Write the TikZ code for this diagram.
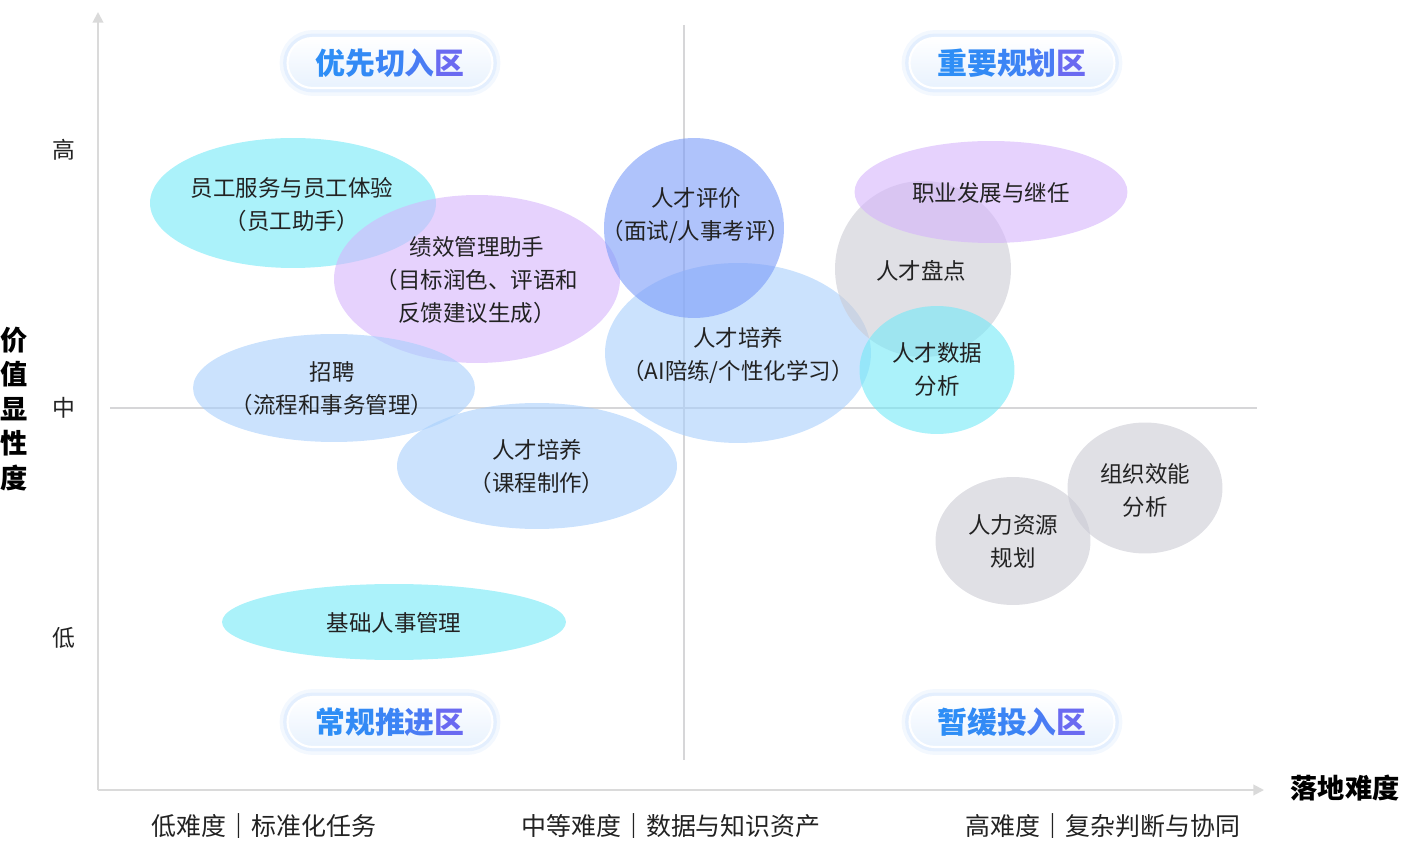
\documentclass[tikz,border=0pt]{standalone}
\usepackage{fontspec}
\setmainfont{Noto Sans CJK SC}
\usetikzlibrary{shapes.geometric,arrows.meta}

\definecolor{axisgray}{HTML}{DADADA}
\definecolor{gridgray}{HTML}{D6D6D8}
\definecolor{cyanfill}{HTML}{73E9F7}
\definecolor{bluefill}{HTML}{A8CFFC}
\definecolor{deepfill}{HTML}{7A9BF8}
\definecolor{violetfill}{HTML}{D5B4FC}
\definecolor{greyfill}{HTML}{CBCBD4}
\definecolor{inkdark}{HTML}{222222}
\definecolor{glowblue}{HTML}{D6E7FD}
\definecolor{pillbottom}{HTML}{E8F2FE}
\definecolor{zoneA}{HTML}{2E8EF6}
\definecolor{zoneB}{HTML}{328AF5}
\definecolor{zoneC}{HTML}{3B84F5}
\definecolor{zoneD}{HTML}{4A7CF4}
\definecolor{zoneE}{HTML}{6A6AF1}

\newcommand{\zonename}[5]{\textcolor{zoneA}{#1}\textcolor{zoneB}{#2}\textcolor{zoneC}{#3}\textcolor{zoneD}{#4}\textcolor{zoneE}{#5}}

\tikzset{
  blob/.style={ellipse, fill=#1, fill opacity=0.6, inner sep=0pt},
  blobtext/.style={align=center, text=inkdark, font=\fontsize{12.8}{18.8}\selectfont},
  zone/.style={rounded corners=0.5cm, minimum width=4.1cm, minimum height=1cm,
    preaction={draw=glowblue, line width=9pt, opacity=0.3},
    preaction={draw=glowblue, line width=5pt, opacity=0.5},
    top color=white, bottom color=pillbottom, draw=white, line width=1.2pt,
    font=\fontsize{17}{20}\selectfont\bfseries},
  axis/.style={draw=axisgray, line width=1.1pt, -{Triangle[length=6pt,width=6pt]}},
  divider/.style={draw=gridgray, line width=0.8pt},
  tick/.style={text=inkdark, font=\fontsize{13}{15}\selectfont},
  axisname/.style={text=black, font=\fontsize{15.5}{19.6}\selectfont\bfseries, align=center},
  difftext/.style={text=inkdark, font=\fontsize{14.2}{17}\selectfont}
}

\begin{document}
\begin{tikzpicture}[x=0.02cm, y=-0.02cm]
        \useasboundingbox (0,0) rectangle (1404,861);

        % Draw axes and quadrant lines
        \coordinate (origin) at (98,790);
        \coordinate (ytip) at (98,12);
        \coordinate (xtip) at (1264,790);
        \coordinate (vtop) at (684,25);
        \coordinate (vbot) at (684,760);
        \coordinate (hleft) at (110,408);
        \coordinate (hright) at (1257,408);
        \draw[divider] (vtop) -- (vbot);
        \draw[divider] (hleft) -- (hright);
        \draw[axis] (origin) -- (ytip);
        \draw[axis] (origin) -- (xtip);

        % Draw ellipses
        \node[blob=cyanfill, minimum width=5.72cm, minimum height=2.6cm] (service) at (293,203) {};
        \node[blob=violetfill, minimum width=5.72cm, minimum height=3.36cm] (perf) at (477,279) {};
        \node[blob=bluefill, minimum width=5.64cm, minimum height=2.16cm] (recruit) at (334,388) {};
        \node[blob=bluefill, minimum width=5.6cm, minimum height=2.52cm] (course) at (537,466) {};
        \node[blob=cyanfill, minimum width=6.88cm, minimum height=1.52cm] (basic) at (394,622) {};
        \node[blob=bluefill, minimum width=5.32cm, minimum height=3.6cm] (coach) at (738,353) {};
        \node[blob=deepfill, minimum width=3.6cm, minimum height=3.6cm] (assess) at (694,228) {};
        \node[blob=greyfill, minimum width=3.52cm, minimum height=3.52cm] (review) at (923,269) {};
        \node[blob=violetfill, minimum width=5.46cm, minimum height=2.04cm] (career) at (991,192) {};
        \node[blob=cyanfill, minimum width=3.1cm, minimum height=2.56cm] (analytics) at (937,370) {};
        \node[blob=greyfill, minimum width=3.1cm, minimum height=2.62cm] (orgeff) at (1145,488) {};
        \node[blob=greyfill, minimum width=3.1cm, minimum height=2.56cm] (hrplan) at (1013,541) {};

        % Draw ellipse texts
        \node[blobtext] (serviceT) at (292,205) {员工服务与员工体验\\（员工助手）};
        \node[blobtext] (perfT) at (477,280) {绩效管理助手\\（目标润色、评语和\\反馈建议生成）};
        \node[blobtext] (recruitT) at (332,389) {招聘\\（流程和事务管理）};
        \node[blobtext] (courseT) at (537,467) {人才培养\\（课程制作）};
        \node[blobtext] (basicT) at (394,623) {基础人事管理};
        \node[blobtext] (coachT) at (738,355) {人才培养\\（AI陪练/个性化学习）};
        \node[blobtext] (assessT) at (696,216) {人才评价\\（面试/人事考评）};
        \node[blobtext] (reviewT) at (921,271) {人才盘点};
        \node[blobtext] (careerT) at (991,193) {职业发展与继任};
        \node[blobtext] (analyticsT) at (937,369) {人才数据\\分析};
        \node[blobtext] (orgeffT) at (1145,490) {组织效能\\分析};
        \node[blobtext] (hrplanT) at (1013,541) {人力资源\\规划};

        % Draw quadrant labels
        \node[zone] (first) at (390,63) {\zonename{优}{先}{切}{入}{区}};
        \node[zone] (plan) at (1012,63) {\zonename{重}{要}{规}{划}{区}};
        \node[zone] (routine) at (390,722) {\zonename{常}{规}{推}{进}{区}};
        \node[zone] (defer) at (1012,722) {\zonename{暂}{缓}{投}{入}{区}};

        % Draw axis labels
        \node[tick] (high) at (64,150) {高};
        \node[tick] (mid) at (64,408) {中};
        \node[tick] (low) at (64,638) {低};
        \node[axisname] (value) at (14,409) {价\\值\\显\\性\\度};
        \node[axisname] (effort) at (1345,788) {落地难度};
        \node[difftext] (easy) at (264,826) {低难度\textbf{｜}标准化任务};
        \node[difftext] (medium) at (671,826) {中等难度\textbf{｜}数据与知识资产};
        \node[difftext] (hard) at (1103,826) {高难度\textbf{｜}复杂判断与协同};
\end{tikzpicture}
\end{document}
